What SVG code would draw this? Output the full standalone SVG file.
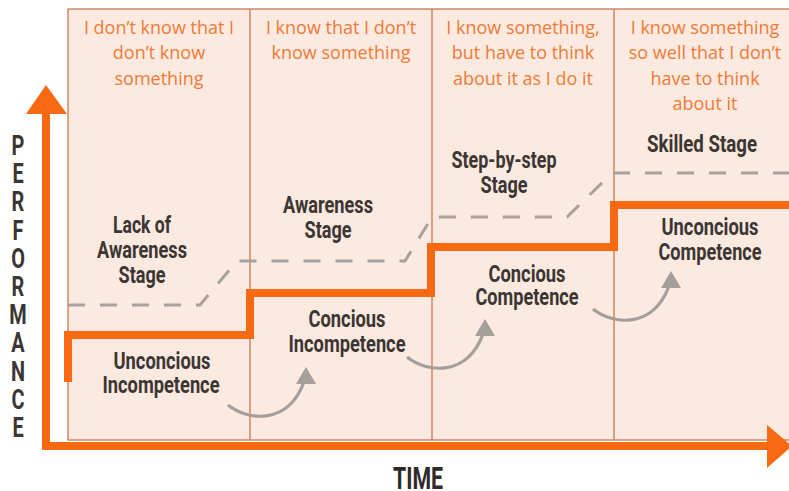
<svg xmlns="http://www.w3.org/2000/svg" width="789" height="491" viewBox="0 0 789 491">
<defs>
<style>
.hdr{font-family:"Open Sans",Lato,sans-serif;font-size:18px;fill:#ef7b37;text-anchor:middle}
.lbl{font-family:Roboto,"Liberation Sans",sans-serif;font-weight:700;font-size:23px;fill:#3b3634;text-anchor:middle}
.axis{fill:none;stroke:#f76a12;stroke-width:8}
.step{fill:none;stroke:#f76a12;stroke-width:8;stroke-linejoin:miter}
.dash{fill:none;stroke:#a8a19d;stroke-width:3;stroke-dasharray:17 15}
.arc{fill:none;stroke:#a59e9a;stroke-width:3.2}
.div{stroke:#c47a52;stroke-width:1.3}
</style>
<g id="curl">
<path class="arc" d="M228,405 C248,421 288,425 304,382"/>
<polygon points="306,367 296,384 316,384" fill="#a59e9a"/>
</g>
</defs>
<rect width="789" height="491" fill="#ffffff"/>
<g id="panel">
<rect x="68" y="9" width="740" height="431" fill="#fce9e0" stroke="#c47a52" stroke-width="1.3"/>
<line class="div" x1="250" y1="9" x2="250" y2="440"/>
<line class="div" x1="432" y1="9" x2="432" y2="440"/>
<line class="div" x1="614" y1="9" x2="614" y2="440"/>
</g>
<g id="headers">
<text class="hdr"><tspan x="159" y="34">I don’t know that I</tspan><tspan x="159" y="59">don’t know</tspan><tspan x="159" y="85">something</tspan></text>
<text class="hdr"><tspan x="341" y="34">I know that I don’t</tspan><tspan x="341" y="59">know something</tspan></text>
<text class="hdr"><tspan x="523" y="34">I know something,</tspan><tspan x="523" y="59">but have to think</tspan><tspan x="523" y="85">about it as I do it</tspan></text>
<text class="hdr"><tspan x="705" y="34">I know something</tspan><tspan x="705" y="59">so well that I don’t</tspan><tspan x="705" y="85">have to think</tspan><tspan x="705" y="110">about it</tspan></text>
</g>
<g id="connectors">
<path class="dash" d="M68,305 H200 L237,261 H405 L432,217 H567 L612,173 H789"/>
<path class="step" d="M68,382 V335 H250 V293 H431 V247 H614 V205 H789"/>
<use href="#curl"/>
<use href="#curl" transform="translate(179,-48)"/>
<use href="#curl" transform="translate(365,-96)"/>
</g>
<g id="axes">
<path class="axis" d="M46,110 V446 H770"/>
<polygon points="46,85 26,114 67,114" fill="#f76a12"/>
<polygon points="767,425 767,468 792,446" fill="#f76a12"/>
</g>
<g id="stage-lack">
<text class="lbl"><tspan x="142" y="233" textLength="58" lengthAdjust="spacingAndGlyphs">Lack of</tspan><tspan x="142" y="258" textLength="90" lengthAdjust="spacingAndGlyphs">Awareness</tspan><tspan x="142" y="283" textLength="47" lengthAdjust="spacingAndGlyphs">Stage</tspan></text>
</g>
<g id="stage-awareness">
<text class="lbl"><tspan x="328" y="213" textLength="90" lengthAdjust="spacingAndGlyphs">Awareness</tspan><tspan x="328" y="238" textLength="47" lengthAdjust="spacingAndGlyphs">Stage</tspan></text>
</g>
<g id="stage-step">
<text class="lbl"><tspan x="504" y="168" textLength="105" lengthAdjust="spacingAndGlyphs">Step-by-step</tspan><tspan x="504" y="193" textLength="47" lengthAdjust="spacingAndGlyphs">Stage</tspan></text>
</g>
<g id="stage-skilled">
<text class="lbl" x="702" y="152" textLength="110" lengthAdjust="spacingAndGlyphs">Skilled Stage</text>
</g>
<g id="unc-incomp">
<text class="lbl"><tspan x="162" y="369" textLength="97" lengthAdjust="spacingAndGlyphs">Unconcious</tspan><tspan x="161" y="393" textLength="117" lengthAdjust="spacingAndGlyphs">Incompetence</tspan></text>
</g>
<g id="con-incomp">
<text class="lbl"><tspan x="347" y="327" textLength="77" lengthAdjust="spacingAndGlyphs">Concious</tspan><tspan x="347" y="352" textLength="117" lengthAdjust="spacingAndGlyphs">Incompetence</tspan></text>
</g>
<g id="con-comp">
<text class="lbl"><tspan x="527" y="282" textLength="77" lengthAdjust="spacingAndGlyphs">Concious</tspan><tspan x="527" y="305" textLength="103" lengthAdjust="spacingAndGlyphs">Competence</tspan></text>
</g>
<g id="unc-comp">
<text class="lbl"><tspan x="710" y="235" textLength="97" lengthAdjust="spacingAndGlyphs">Unconcious</tspan><tspan x="710" y="260" textLength="103" lengthAdjust="spacingAndGlyphs">Competence</tspan></text>
</g>
<g id="axis-labels">
<text transform="translate(18,0) scale(0.7,1)" style="font-family:Roboto,'Liberation Sans',sans-serif;font-weight:700;font-size:28.5px;fill:#3b3634;text-anchor:middle"><tspan x="0" y="155">P</tspan><tspan x="0" y="183.2">E</tspan><tspan x="0" y="211.4">R</tspan><tspan x="0" y="239.6">F</tspan><tspan x="0" y="267.8">O</tspan><tspan x="0" y="296">R</tspan><tspan x="0" y="324.2">M</tspan><tspan x="0" y="352.4">A</tspan><tspan x="0" y="380.6">N</tspan><tspan x="0" y="408.8">C</tspan><tspan x="0" y="437">E</tspan></text>
<text x="418" y="489" textLength="50" lengthAdjust="spacingAndGlyphs" style="font-family:Roboto,'Liberation Sans',sans-serif;font-weight:700;font-size:32px;fill:#2e2a29;text-anchor:middle">TIME</text>
</g>
</svg>
